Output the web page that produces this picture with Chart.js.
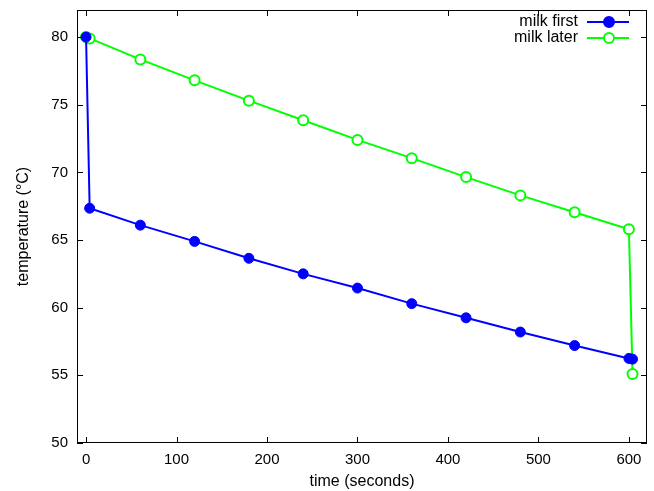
<!DOCTYPE html>
<html>
<head>
<meta charset="utf-8">
<script src="https://cdn.jsdelivr.net/npm/chart.js@4/dist/chart.umd.min.js"></script>
<style>
  html, body { margin: 0; padding: 0; background: #fff; }
  #wrap { width: 654px; height: 491px; }
</style>
</head>
<body>
<div id="wrap"><canvas id="myChart"></canvas></div>
<script>
// time in seconds
const timeFirst = [0, 4, 60, 120, 180, 240, 300, 360, 420, 480, 540, 600, 604];
const tempFirst = [80, 67.35, 66.1, 64.9, 63.65, 62.5, 61.45, 60.3, 59.25, 58.2, 57.2, 56.25, 56.2];
const timeLater = [0, 4, 60, 120, 180, 240, 300, 360, 420, 480, 540, 600, 604];
const tempLater = [80, 79.9, 78.35, 76.8, 75.3, 73.85, 72.4, 71.05, 69.65, 68.3, 67.05, 65.8, 55.1];
const xTicks = [0, 100, 200, 300, 400, 500, 600];
const yTicks = [50, 55, 60, 65, 70, 75, 80];

const ctx = document.getElementById("myChart");
const family = "'Liberation Sans', Arial, sans-serif";
const tickFont = { family: family, size: 15 };
const font = { family: family, size: 16 };

const toPoints = (xs, ys) => xs.map((x, i) => ({ x: x, y: ys[i] }));

// gnuplot style frame with inward ticks on all sides
const framePlugin = {
  id: "frame",
  afterDraw(chart) {
    const c = chart.ctx;
    const a = chart.chartArea;
    const xs = chart.scales.x, ys = chart.scales.y;
    c.save();
    c.strokeStyle = "#000";
    c.lineWidth = 1;
    c.strokeRect(a.left + 0.5, a.top + 0.5, a.right - a.left - 1, a.bottom - a.top - 1);
    c.beginPath();
    xTicks.forEach((v) => {
      const p = Math.round(xs.getPixelForValue(v)) + 0.5;
      c.moveTo(p, a.bottom); c.lineTo(p, a.bottom - 6);
      c.moveTo(p, a.top); c.lineTo(p, a.top + 6);
    });
    yTicks.forEach((v) => {
      const p = Math.round(ys.getPixelForValue(v)) + 0.5;
      c.moveTo(a.left, p); c.lineTo(a.left + 6, p);
      c.moveTo(a.right, p); c.lineTo(a.right - 6, p);
    });
    c.stroke();

    // legend, key to the right of the text
    chart.data.datasets.forEach((ds, i) => {
      const y = 22 + i * 16;
      c.font = font.size + "px " + font.family;
      c.fillStyle = "#000";
      c.textAlign = "right";
      c.textBaseline = "middle";
      c.fillText(ds.label, 578, y);
      c.strokeStyle = ds.borderColor;
      c.lineWidth = 2;
      c.beginPath();
      c.moveTo(587, y); c.lineTo(629, y);
      c.stroke();
      c.beginPath();
      c.arc(609, y, 5, 0, Math.PI * 2);
      c.fillStyle = ds.pointBackgroundColor;
      c.fill();
      c.stroke();
    });
    c.restore();
  },
};

new Chart(ctx, {
  type: "line",
  data: {
    datasets: [
      {
        label: "milk first",
        data: toPoints(timeFirst, tempFirst),
        borderColor: "#0000ff",
        backgroundColor: "#0000ff",
        pointBackgroundColor: "#0000ff",
        pointBorderColor: "#0000ff",
        borderWidth: 2,
        pointRadius: 5,
        pointBorderWidth: 1,
      },
      {
        label: "milk later",
        data: toPoints(timeLater, tempLater),
        borderColor: "#00ff00",
        backgroundColor: "#00ff00",
        pointBackgroundColor: "#ffffff",
        pointBorderColor: "#00ff00",
        borderWidth: 2,
        pointRadius: 5,
        pointBorderWidth: 2,
      },
    ],
  },
  options: {
    responsive: true,
    maintainAspectRatio: false,
    animation: false,
    layout: { padding: { top: 10, right: 6, left: 14, bottom: 0 } },
    plugins: {
      legend: { display: false },
      tooltip: { enabled: false },
    },
    scales: {
      x: {
        type: "linear",
        min: -10,
        max: 620,
        afterBuildTicks: (s) => { s.ticks = xTicks.map((v) => ({ value: v })); },
        afterFit: (s) => { s.height = 48; s.paddingLeft = 0; s.paddingRight = 0; },
        grid: { display: false, drawTicks: false },
        border: { display: false },
        ticks: { color: "#000", font: tickFont, padding: 8, maxRotation: 0 },
        title: { display: true, text: "time (seconds)", color: "#000", font: font, padding: { top: 1, bottom: 0 } },
      },
      y: {
        min: 50,
        max: 82,
        afterBuildTicks: (s) => { s.ticks = yTicks.map((v) => ({ value: v })); },
        afterFit: (s) => { s.width = 63; s.paddingTop = 0; s.paddingBottom = 0; },
        grid: { display: false, drawTicks: false },
        border: { display: false },
        ticks: { color: "#000", font: tickFont, padding: 9 },
        title: { display: true, text: "temperature (°C)", color: "#000", font: font, padding: { top: 0, bottom: 4 } },
      },
    },
  },
  plugins: [framePlugin],
});
</script>
</body>
</html>
